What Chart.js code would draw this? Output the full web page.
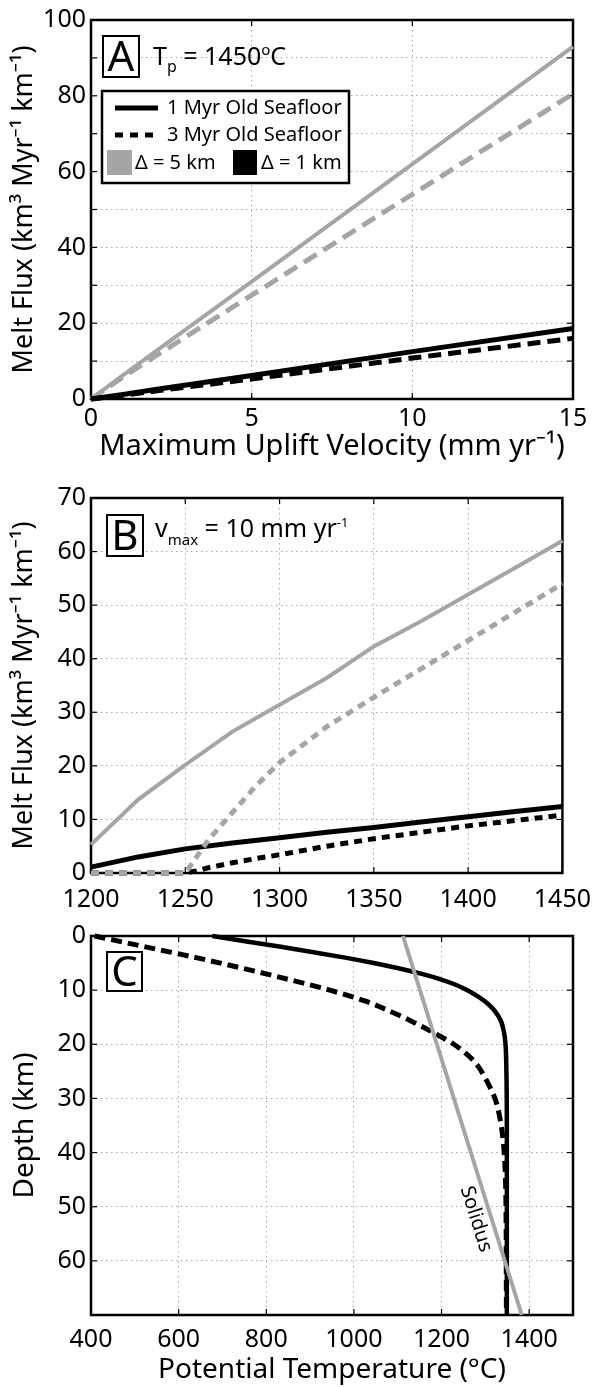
<!DOCTYPE html>
<html>
<head>
<meta charset="utf-8">
<script src="https://cdn.jsdelivr.net/npm/chart.js@4.4.1/dist/chart.umd.min.js"></script>
<style>
  html, body { margin: 0; padding: 0; background: #fff; }
  body { width: 603px; height: 1387px; position: relative; overflow: hidden; }
  canvas { position: absolute; left: 0; }
</style>
</head>
<body>
<canvas id="chartA" width="603" height="470" style="top:0px"></canvas>
<canvas id="chartB" width="603" height="440" style="top:475px"></canvas>
<canvas id="chartC" width="603" height="472" style="top:915px"></canvas>
<script>
const FONT = "'Noto Sans', 'Open Sans', sans-serif";
const GRAY = "#a5a5a5";
Chart.defaults.font.family = FONT;
Chart.defaults.color = "#000";

// --- panel A: melt flux vs maximum uplift velocity (Tp = 1450 C)
const upliftVelocity = [0, 1, 2, 5, 10, 15];
const fluxA_5km_1Myr = [0, 6.3, 12.5, 31, 62, 93];
const fluxA_5km_3Myr = [0, 5.8, 11.3, 27.4, 54, 80.5];
const fluxA_1km_1Myr = [0, 1.2, 2.5, 6.2, 12.5, 18.6];
const fluxA_1km_3Myr = [0, 1.0, 2.1, 5.3, 10.8, 16];

// --- panel B: melt flux vs potential temperature (vmax = 10 mm/yr)
const potTemp = [1200, 1225, 1250, 1275, 1300, 1325, 1350, 1375, 1400, 1425, 1450];
const fluxB_5km_1Myr = [5.3, 13.7, 20.2, 26.4, 31.4, 36.4, 42.3, 47, 52, 57, 62];
const fluxB_1km_1Myr = [1.1, 3.0, 4.5, 5.6, 6.6, 7.6, 8.5, 9.5, 10.5, 11.5, 12.4];
const potTempOld = [1200, 1225, 1250, 1256, 1262.5, 1275, 1287.5, 1300, 1325, 1350, 1375, 1400, 1425, 1450];
const fluxB_5km_3Myr = [0, 0, 0, 3, 6.3, 11.3, 16.3, 20.6, 27.3, 32.8, 38.1, 43.4, 48.7, 54];
const fluxB_1km_3Myr = [0, 0, 0, 0.4, 1.0, 1.9, 2.7, 3.4, 5.0, 6.4, 7.6, 8.8, 9.8, 10.8];

// --- panel C: temperature profiles and solidus
const temp1Myr = [677, 755, 833, 908, 980, 1045, 1104, 1155, 1198, 1232, 1259, 1280, 1298, 1312, 1323, 1331, 1337, 1343, 1346, 1348, 1349, 1349];
const depth1Myr = [0, 1, 2, 3, 4, 5, 6, 7, 8, 9, 10, 11, 12, 13, 14, 15, 16, 18, 20, 25, 35, 70];
const temp3Myr = [408, 524, 640, 748, 850, 945, 1025, 1085, 1138, 1185, 1228, 1260, 1283, 1298, 1311, 1322, 1329, 1334, 1338, 1343, 1346, 1347, 1348];
const depth3Myr = [0, 2, 4, 6, 8, 10, 12, 14, 16, 18, 20, 22, 24, 26, 28, 30, 32, 34, 36, 40, 45, 50, 70];
const solidusTemp = [1112, 1383];
const solidusDepth = [0, 70];

const pairs = (xs, ys) => xs.map((x, i) => ({ x: x, y: ys[i] }));

function line(ctx, x1, y1, x2, y2) {
  ctx.beginPath();
  ctx.moveTo(x1, y1);
  ctx.lineTo(x2, y2);
  ctx.stroke();
}

// frame + inward tick marks
const framePlugin = {
  id: "frame",
  beforeDatasetsDraw(chart) {
    const { ctx, chartArea: a, scales } = chart;
    ctx.save();
    ctx.strokeStyle = "#000";
    ctx.lineWidth = 1.2;
    scales.x.ticks.forEach((t) => {
      const px = scales.x.getPixelForValue(t.value);
      line(ctx, px, a.bottom, px, a.bottom - 6);
      line(ctx, px, a.top, px, a.top + 6);
    });
    scales.y.ticks.forEach((t) => {
      const py = scales.y.getPixelForValue(t.value);
      line(ctx, a.left, py, a.left + 6, py);
      line(ctx, a.right, py, a.right - 6, py);
    });
    ctx.lineWidth = 2.5;
    ctx.strokeRect(a.left, a.top, a.width, a.height);
    ctx.restore();
  },
};

function letterBox(ctx, x, y, w, h, letter) {
  ctx.fillStyle = "#fff";
  ctx.fillRect(x, y, w, h);
  ctx.lineWidth = 2;
  ctx.strokeStyle = "#000";
  ctx.strokeRect(x, y, w, h);
  ctx.fillStyle = "#000";
  ctx.font = "42px " + FONT;
  ctx.textAlign = "center";
  ctx.textBaseline = "alphabetic";
  ctx.fillText(letter, x + w / 2, y + h / 2 + 42 * 0.357);
}

// draws text pieces one after another: [text, size, dy]
function richText(ctx, x, y, pieces) {
  ctx.textAlign = "left";
  ctx.textBaseline = "alphabetic";
  ctx.fillStyle = "#000";
  pieces.forEach(([t, size, dy]) => {
    ctx.font = size + "px " + FONT;
    ctx.fillText(t, x, y + dy);
    x += ctx.measureText(t).width;
  });
}

const annotA = {
  id: "annotA",
  afterDatasetsDraw(chart) {
    const { ctx, chartArea: a } = chart;
    const L = a.left, T = a.top;
    ctx.save();
    letterBox(ctx, L + 12, T + 16, 36, 41, "A");
    richText(ctx, L + 62, T + 45, [["T", 25, 0], ["p", 16, 7], [" = 1450", 25, 0], ["o", 15, -10], ["C", 25, 0]]);

    // legend
    ctx.fillStyle = "#fff";
    ctx.fillRect(L + 11, T + 71, 247, 92);
    ctx.lineWidth = 2.5;
    ctx.strokeStyle = "#000";
    ctx.strokeRect(L + 11, T + 71, 247, 92);
    ctx.lineWidth = 5;
    ctx.lineCap = "butt";
    line(ctx, L + 24, T + 88, L + 67, T + 88);
    ctx.setLineDash([8, 7]);
    line(ctx, L + 24, T + 115, L + 67, T + 115);
    ctx.setLineDash([]);
    ctx.fillStyle = GRAY;
    ctx.fillRect(L + 16, T + 130, 25, 25);
    ctx.fillStyle = "#000";
    ctx.fillRect(L + 142, T + 130, 24, 25);
    ctx.font = "20px " + FONT;
    ctx.textAlign = "left";
    ctx.textBaseline = "middle";
    ctx.fillText("1 Myr Old Seafloor", L + 76, T + 88);
    ctx.fillText("3 Myr Old Seafloor", L + 76, T + 115);
    ctx.fillText("\u0394 = 5 km", L + 44, T + 143);
    ctx.fillText("\u0394 = 1 km", L + 170, T + 143);
    ctx.restore();
  },
};

const annotB = {
  id: "annotB",
  afterDatasetsDraw(chart) {
    const { ctx, chartArea: a } = chart;
    ctx.save();
    letterBox(ctx, a.left + 16, a.top + 17, 36, 41, "B");
    richText(ctx, a.left + 64, a.top + 39, [["v", 25, 0], ["max", 15, 8], [" = 10 mm yr", 25, 0], ["-1", 13, -10]]);
    ctx.restore();
  },
};

const annotC = {
  id: "annotC",
  afterDatasetsDraw(chart) {
    const { ctx, chartArea: a, scales } = chart;
    ctx.save();
    letterBox(ctx, a.left + 16, a.top + 16, 35, 39, "C");
    // label along the solidus line
    const x0 = scales.x.getPixelForValue(solidusTemp[0]), y0 = scales.y.getPixelForValue(solidusDepth[0]);
    const x1 = scales.x.getPixelForValue(solidusTemp[1]), y1 = scales.y.getPixelForValue(solidusDepth[1]);
    const ang = Math.atan2(y1 - y0, x1 - x0);
    const f = 0.735;
    const cx = x0 + (x1 - x0) * f, cy = y0 + (y1 - y0) * f;
    ctx.translate(cx, cy);
    ctx.rotate(ang);
    ctx.font = "20px " + FONT;
    ctx.fillStyle = "#000";
    ctx.textAlign = "center";
    ctx.textBaseline = "middle";
    ctx.fillText("Solidus", 0, 15);
    ctx.restore();
  },
};

function axisX(min, max, step, tickPad, height, title, titleSize, titlePad, cb) {
  return {
    type: "linear",
    min: min,
    max: max,
    afterFit: (s) => { s.height = height; },
    ticks: { stepSize: step, padding: tickPad, maxRotation: 0, includeBounds: false, font: { size: 25 }, callback: cb || ((v) => v) },
    grid: { color: "#aaa", lineWidth: 1, drawTicks: false },
    border: { display: false, dash: [1.5, 3.5] },
    title: title ? { display: true, text: title, font: { size: titleSize }, padding: { top: 0, bottom: titlePad } } : { display: false },
  };
}

function axisY(min, max, step, title, titleSize, cb, reverse) {
  return {
    type: "linear",
    min: min,
    max: max,
    reverse: !!reverse,
    afterFit: (s) => { s.width = 91; },
    ticks: { stepSize: step, padding: 5, includeBounds: false, font: { size: 25 }, callback: cb || ((v) => v) },
    grid: { color: "#aaa", lineWidth: 1, drawTicks: false },
    border: { display: false, dash: [1.5, 3.5] },
    title: { display: true, text: title, font: { size: titleSize }, padding: { top: 8, bottom: 0 } },
  };
}

const common = {
  responsive: false,
  animation: false,
  events: [],
  plugins: { legend: { display: false }, tooltip: { enabled: false } },
  elements: { point: { radius: 0 }, line: { borderCapStyle: "butt", tension: 0 } },
};

const fluxTitle = "Melt Flux (km\u00b3 Myr\u207b\u00b9 km\u207b\u00b9)";

new Chart(document.getElementById("chartA"), {
  type: "line",
  data: {
    datasets: [
      { data: pairs(upliftVelocity, fluxA_1km_3Myr), borderColor: "#000", borderWidth: 5, borderDash: [13, 7], clip: 5 },
      { data: pairs(upliftVelocity, fluxA_1km_1Myr), borderColor: "#000", borderWidth: 5, clip: 5 },
      { data: pairs(upliftVelocity, fluxA_5km_3Myr), borderColor: GRAY, borderWidth: 5, borderDash: [15, 8], clip: 5 },
      { data: pairs(upliftVelocity, fluxA_5km_1Myr), borderColor: GRAY, borderWidth: 4, clip: 5 },
    ],
  },
  options: Object.assign({}, common, {
    layout: { padding: { left: 0, right: 30, top: 19, bottom: 0 } },
    scales: {
      x: axisX(0, 15, 5, 5, 71, "Maximum Uplift Velocity (mm yr\u207b\u00b9)", 29, 6),
      y: axisY(0, 100, 10, fluxTitle, 27, (v) => (v % 20 === 0 ? v : "")),
    },
  }),
  plugins: [framePlugin, annotA],
});

new Chart(document.getElementById("chartB"), {
  type: "line",
  data: {
    datasets: [
      { data: pairs(potTempOld, fluxB_5km_3Myr), borderColor: GRAY, borderWidth: 5, borderDash: [8, 6], clip: 6 },
      { data: pairs(potTempOld, fluxB_1km_3Myr), borderColor: "#000", borderWidth: 5, borderDash: [8, 6], clip: 6 },
      { data: pairs(potTemp, fluxB_1km_1Myr), borderColor: "#000", borderWidth: 5, clip: 6 },
      { data: pairs(potTemp, fluxB_5km_1Myr), borderColor: GRAY, borderWidth: 4, clip: 6 },
    ],
  },
  options: Object.assign({}, common, {
    layout: { padding: { left: 0, right: 25, top: 23, bottom: 0 } },
    scales: {
      x: axisX(1200, 1450, 50, 12, 42, null, 0, 0),
      y: axisY(0, 70, 10, fluxTitle, 27),
    },
  }),
  plugins: [framePlugin, annotB],
});

new Chart(document.getElementById("chartC"), {
  type: "line",
  data: {
    datasets: [
      { data: pairs(solidusTemp, solidusDepth), borderColor: GRAY, borderWidth: 4, clip: 4 },
      { data: pairs(temp1Myr, depth1Myr), borderColor: "#000", borderWidth: 4.5, cubicInterpolationMode: "monotone", clip: 4 },
      { data: pairs(temp3Myr, depth3Myr), borderColor: "#000", borderWidth: 5, borderDash: [11, 6], cubicInterpolationMode: "monotone", clip: 4 },
    ],
  },
  options: Object.assign({}, common, {
    indexAxis: "y",
    layout: { padding: { left: 0, right: 30, top: 21, bottom: 0 } },
    scales: {
      x: axisX(400, 1500, 200, 10, 72, "Potential Temperature (\u00b0C)", 28, 0),
      y: axisY(0, 70, 10, "Depth (km)", 28, (v) => (v === 70 ? "" : v), true),
    },
  }),
  plugins: [framePlugin, annotC],
});
</script>
</body>
</html>
